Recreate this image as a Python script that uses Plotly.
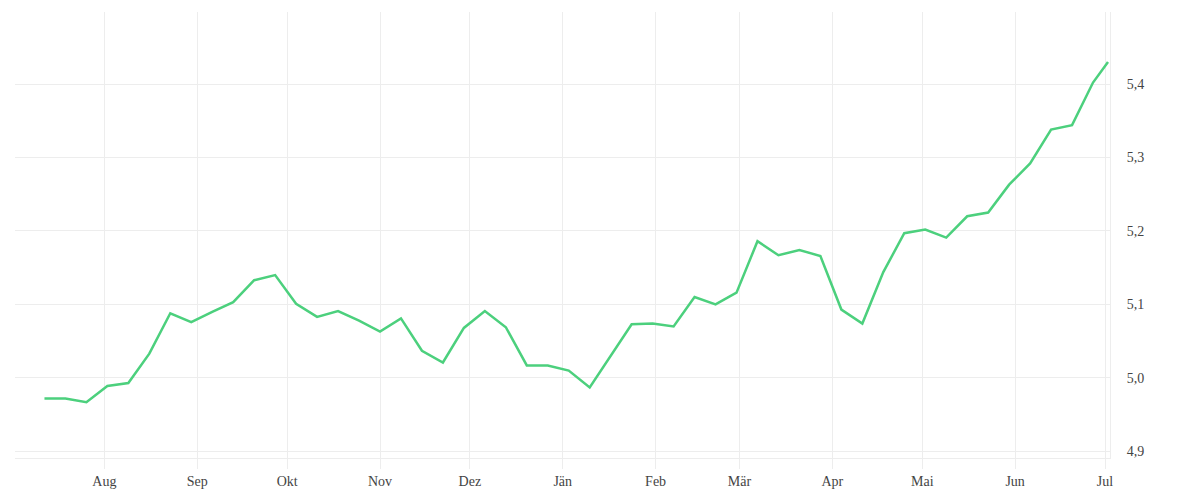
import pandas as pd
import plotly.graph_objects as go

# weekly values
dates = list(pd.date_range("2022-07-12", periods=51, freq="7D").strftime("%Y-%m-%d")) + ["2023-07-02"]
values = [
    4.972, 4.972, 4.967, 4.989, 4.993, 5.033, 5.088, 5.076, 5.090, 5.103,
    5.133, 5.140, 5.101, 5.083, 5.091, 5.078, 5.063, 5.081, 5.037, 5.021,
    5.068, 5.091, 5.069, 5.017, 5.017, 5.010, 4.987, 5.030, 5.073, 5.074,
    5.070, 5.110, 5.100, 5.116, 5.186, 5.167, 5.174, 5.166, 5.093, 5.074,
    5.144, 5.197, 5.202, 5.191, 5.220, 5.225, 5.263, 5.292, 5.338, 5.344,
    5.402, 5.430,
]
month_ticks = ["2022-08-01", "2022-09-01", "2022-10-01", "2022-11-01", "2022-12-01", "2023-01-01",
               "2023-02-01", "2023-03-01", "2023-04-01", "2023-05-01", "2023-06-01", "2023-07-01"]
month_labels = ["Aug", "Sep", "Okt", "Nov", "Dez", "Jän", "Feb", "Mär", "Apr", "Mai", "Jun", "Jul"]
y_ticks = [4.9, 5.0, 5.1, 5.2, 5.3, 5.4]

grid = "#ededed"

fig = go.Figure()
fig.add_trace(go.Scatter(x=dates, y=values,
                         mode='lines',
                         line={"color": "#4cd07d", "width": 2.5},
                         hoverinfo='none'))

# page body adds 8px, so the figure is a bit smaller than the window
fig.update_layout(
    width=1192, height=492,
    margin={"l": 7, "r": 90, "t": 4, "b": 42},
    paper_bgcolor="white", plot_bgcolor="white",
    showlegend=False,
    separators=",.",
    font={"family": "Liberation Serif", "size": 14, "color": "#444444"},
    xaxis={
        "range": ["2022-07-02 04:00", "2023-07-02 16:00"],
        "tickvals": month_ticks, "ticktext": month_labels,
        "showgrid": True, "gridcolor": grid, "gridwidth": 1,
        "ticks": "outside", "ticklen": 10, "tickcolor": grid,
        "showline": True, "linecolor": grid, "linewidth": 1,
        "zeroline": False,
    },
    yaxis={
        "side": "right",
        "range": [4.891, 5.498],
        "tickvals": y_ticks, "tickformat": ".1f",
        "showgrid": True, "gridcolor": grid, "gridwidth": 1,
        "ticks": "outside", "ticklen": 13, "tickcolor": "rgba(0,0,0,0)",
        "showline": True, "linecolor": grid, "linewidth": 1,
        "zeroline": False,
    },
)

fig.write_html("out.html")
